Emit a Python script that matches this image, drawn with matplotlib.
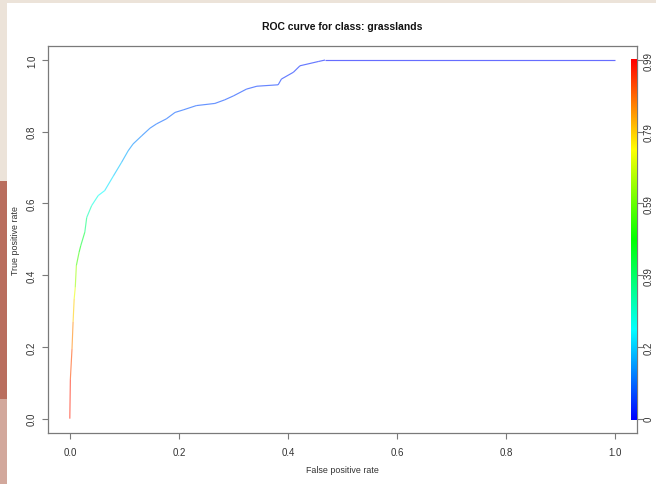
import numpy as np
import matplotlib
matplotlib.use("Agg")
import matplotlib.pyplot as plt
import matplotlib.colors as mcolors
from matplotlib.collections import LineCollection
from matplotlib.patches import Rectangle

plt.rcParams["font.family"] = ["Liberation Sans", "DejaVu Sans"]

# ROC curve points, with the cutoff at each point
fpr = [0.0, 0.001, 0.004, 0.006, 0.008, 0.010, 0.012, 0.017, 0.020, 0.0275,
       0.031, 0.040, 0.052, 0.064, 0.080, 0.095, 0.107, 0.116, 0.132, 0.147,
       0.159, 0.177, 0.193, 0.208, 0.232, 0.266, 0.284, 0.300, 0.324, 0.343,
       0.382, 0.388, 0.410, 0.422, 0.456, 0.468, 1.0]
tpr = [0.0, 0.110, 0.194, 0.270, 0.334, 0.366, 0.427, 0.464, 0.482, 0.520,
       0.561, 0.594, 0.622, 0.636, 0.677, 0.715, 0.747, 0.766, 0.789, 0.810,
       0.822, 0.836, 0.854, 0.861, 0.873, 0.879, 0.889, 0.900, 0.919, 0.927,
       0.931, 0.947, 0.966, 0.984, 0.996, 1.0, 1.0]
cutoff = [0.99, 0.95, 0.90, 0.84, 0.76, 0.70, 0.60, 0.52, 0.48, 0.42,
          0.35, 0.30, 0.26, 0.24, 0.21, 0.18, 0.15, 0.14, 0.12, 0.11,
          0.10, 0.095, 0.09, 0.085, 0.08, 0.075, 0.07, 0.065, 0.06, 0.055,
          0.05, 0.045, 0.04, 0.035, 0.03, 0.025, 0.0]

x_ticks = [0.0, 0.2, 0.4, 0.6, 0.8, 1.0]
y_ticks = [0.0, 0.2, 0.4, 0.6, 0.8, 1.0]
key_labels = ["0", "0.2", "0.39", "0.59", "0.79", "0.99"]

# R style rainbow: blue at cutoff 0, red at cutoff 1
hues = np.linspace(4 / 6, 0, 256)
rainbow = mcolors.ListedColormap(
    mcolors.hsv_to_rgb(np.column_stack([hues, np.ones(256), np.ones(256)])))

fig = plt.figure(figsize=(6.56, 4.85), dpi=100)
fig.patch.set_facecolor("#ece3d9")
W, H = 656, 485
# white slide area and the brown strip at the left edge
fig.patches.append(Rectangle((7 / W, 0), 1 - 7 / W, 1 - 4 / H, transform=fig.transFigure,
                             facecolor="white", edgecolor="none", zorder=-5))
fig.patches.append(Rectangle((0, 0), 7 / W, 1 - 182 / H, transform=fig.transFigure,
                             facecolor="#b96e5e", edgecolor="none", zorder=-5))
fig.patches.append(Rectangle((0, 0), 7 / W, 1 - 400 / H, transform=fig.transFigure,
                             facecolor="#d2a89c", edgecolor="none", zorder=-5))

ax = fig.add_axes([48 / W, 1 - 434 / H, (637 - 48) / W, (434 - 46.7) / H])
ax.set_facecolor("white")

pts = np.column_stack([fpr, tpr])
segs = np.stack([pts[:-1], pts[1:]], axis=1)
seg_cut = (np.array(cutoff[:-1]) + np.array(cutoff[1:])) / 2
lc = LineCollection(segs, colors=rainbow(seg_cut), linewidths=0.85, alpha=0.6)
ax.add_collection(lc)

# colour key at the right edge of the plot
ax.imshow(np.linspace(0, 1, 256).reshape(-1, 1), cmap=rainbow, origin="lower",
          extent=[1.029, 1.040, -0.005, 1.0], aspect="auto", zorder=3)
ax.set_xlim(-0.04, 1.04)
ax.set_ylim(-0.04, 1.04)

grey = "#7a7a7a"
txt = "#333333"
for sp in ax.spines.values():
    sp.set_color(grey)
    sp.set_linewidth(0.9)

ax.set_xticks(x_ticks)
ax.set_xticklabels([f"{v:.1f}" for v in x_ticks])
ax.set_yticks(y_ticks)
ax.set_yticklabels([f"{v:.1f}" for v in y_ticks], rotation=90, va="center")
ax.tick_params(direction="out", length=4, width=0.8, color=grey,
               labelsize=7, labelcolor=txt, pad=6)
ax.tick_params(axis="y", pad=4)

ax2 = ax.twinx()
ax2.set_ylim(-0.04, 1.04)
ax2.set_yticks(y_ticks)
ax2.set_yticklabels(key_labels, rotation=90, va="center")
ax2.tick_params(direction="out", length=4, width=0.8, color=grey,
                labelsize=7, labelcolor=txt, pad=0.5)
for sp in ax2.spines.values():
    sp.set_visible(False)

ax.set_xlabel("False positive rate", fontsize=6.4, color=txt, labelpad=6)
ax.set_ylabel("True positive rate", fontsize=6.4, color=txt, labelpad=5)
ax.set_title("ROC curve for class: grasslands", fontsize=7.5, fontweight="bold",
             color="#111111", pad=12)

fig.savefig("out.png", dpi=100, facecolor=fig.get_facecolor())
